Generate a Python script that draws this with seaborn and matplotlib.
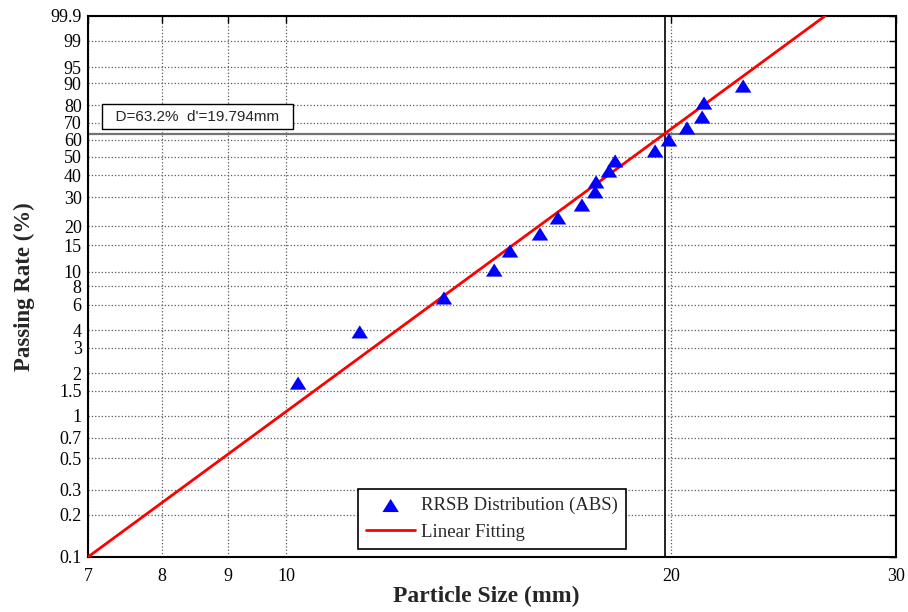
import numpy as np
import pandas as pd
import matplotlib
matplotlib.use('Agg')
import matplotlib.pyplot as plt
import seaborn as sns
from matplotlib.ticker import FixedLocator, FixedFormatter, NullLocator

# measured points (particle size in mm, cumulative passing in %)
size_mm = [10.22, 11.42, 13.29, 14.55, 14.97, 15.80, 16.32, 17.04, 17.45,
           17.48, 17.89, 18.09, 19.44, 19.93, 20.59, 21.16, 21.23, 22.78]
passing = [1.70, 3.88, 6.66, 10.3, 13.8, 17.8, 22.5, 27.0, 32.3,
           36.8, 42.2, 47.6, 53.3, 59.8, 67.0, 73.4, 81.1, 88.9]

# fitted RRSB line end points
fit_size = [7.0, 26.4]
fit_passing = [0.1, 99.9]

d_rate = 63.2
d_char = 19.794

x_ticks = [7, 8, 9, 10, 20, 30]
y_ticks = [0.1, 0.2, 0.3, 0.5, 0.7, 1, 1.5, 2, 3, 4, 6, 8, 10, 15, 20,
           30, 40, 50, 60, 70, 80, 90, 95, 99, 99.9]


def rrsb(p):
    p = np.clip(np.asarray(p, dtype=float) / 100.0, 1e-12, 1 - 1e-12)
    return np.log(-np.log(1 - p))


def rrsb_inv(t):
    t = np.clip(np.asarray(t, dtype=float), -50, 5)
    return 100.0 * (1 - np.exp(-np.exp(t)))


sns.set_style('white')
plt.rcParams['font.family'] = ['Liberation Serif', 'DejaVu Serif']

df = pd.DataFrame({'size': size_mm, 'passing': passing})
fit = pd.DataFrame({'size': fit_size, 'passing': fit_passing})

fig = plt.figure(figsize=(9.08, 6.12), dpi=100)
ax = fig.add_axes([0.0969, 0.0899, 0.8899, 0.884])

ax.set_xscale('log')
ax.set_yscale('function', functions=(rrsb, rrsb_inv))

tri = [(0, 0.8), (-1, -0.8), (1, -0.8)]
sns.scatterplot(data=df, x='size', y='passing', marker=tri, s=140,
                color='#0000ff', edgecolor='none', linewidth=0,
                label='RRSB Distribution (ABS)', ax=ax, zorder=4)
sns.lineplot(data=fit, x='size', y='passing', color='#ff0000', linewidth=2,
             label='Linear Fitting', ax=ax, zorder=3, sort=False)

ax.axhline(d_rate, color='0.45', linewidth=1.6, zorder=2)
ax.axvline(d_char, color='black', linewidth=1.2, zorder=2)

ax.set_xlim(7, 30)
ax.set_ylim(0.1, 99.9)

ax.xaxis.set_major_locator(FixedLocator(x_ticks))
ax.xaxis.set_major_formatter(FixedFormatter([str(v) for v in x_ticks]))
ax.xaxis.set_minor_locator(NullLocator())
ax.yaxis.set_major_locator(FixedLocator(y_ticks))
ax.yaxis.set_major_formatter(FixedFormatter([('%g' % v) for v in y_ticks]))
ax.yaxis.set_minor_locator(NullLocator())

ax.grid(True, which='major', linestyle=':', color='0.35', linewidth=0.9)
ax.tick_params(direction='in', length=5, width=1, top=True, right=True,
               labelsize=13, colors='black')
ax.tick_params(axis='x', pad=8)
ax.tick_params(axis='y', pad=4.5)
for sp in ax.spines.values():
    sp.set_color('black')
    sp.set_linewidth(1.5)

ax.set_xlabel('Particle Size (mm)', fontsize=17, fontweight='bold')
ax.set_ylabel('Passing Rate (%)', fontsize=16.5, fontweight='bold')
ax.xaxis.set_label_coords(0.493, -0.054)
ax.yaxis.set_label_coords(-0.066, 0.5)

ax.text(0.024, 0.814, "  D=63.2%  d'=19.794mm  ", transform=ax.transAxes,
        fontsize=11, family='Liberation Sans', va='center', ha='left',
        zorder=6,
        bbox=dict(boxstyle='square,pad=0.35', facecolor='white',
                  edgecolor='black', linewidth=1))

leg = ax.legend(loc='lower left', bbox_to_anchor=(0.334, 0.014),
                fontsize=13.5, frameon=True, fancybox=False, edgecolor='black',
                framealpha=1, handlelength=2.6, borderpad=0.45,
                labelspacing=0.5, handletextpad=0.3, borderaxespad=0)
leg.get_frame().set_linewidth(1.2)

fig.savefig('out.png', dpi=100)
